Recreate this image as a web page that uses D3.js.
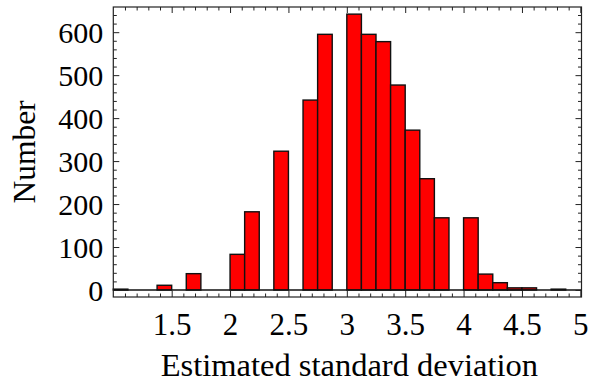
<!DOCTYPE html>
<html>
<head>
<meta charset="utf-8">
<script src="https://cdn.jsdelivr.net/npm/d3@7"></script>
<style>
  body { margin: 0; background: #fff; }
  svg text { font-family: "Liberation Serif", "Times New Roman", serif; fill: #000; }
  .frame { fill: none; stroke: #222; stroke-width: 1.2; }
  .bar { fill: #ff0000; stroke: #111; stroke-width: 1.4; }
  .axis path { display: none; }
  .axis line { stroke: #222; stroke-width: 1; }
</style>
</head>
<body>
<div id="chart"></div>
<script>
// histogram bins of width 0.125, left edges
const binStarts = [1, 1.125, 1.25, 1.375, 1.5, 1.625, 1.75, 1.875,
                   2, 2.125, 2.25, 2.375, 2.5, 2.625, 2.75, 2.875,
                   3, 3.125, 3.25, 3.375, 3.5, 3.625, 3.75, 3.875,
                   4, 4.125, 4.25, 4.375, 4.5, 4.625, 4.75, 4.875];
const counts = [2, 0, 0, 11, 0, 38, 0, 0,
                83, 182, 0, 323, 0, 442, 595, 0,
                642, 595, 578, 477, 372, 259, 168, 0,
                168, 37, 17, 5, 5, 0, 2, 0];
const binWidth = 0.125;

const xTickLabels = [1.5, 2, 2.5, 3, 3.5, 4, 4.5, 5];
const yTickLabels = [0, 100, 200, 300, 400, 500, 600];

const margin = {top: 7, right: 12.5, bottom: 91, left: 113.3},
    width = 594 - margin.left - margin.right,
    height = 388 - margin.top - margin.bottom;

const x = d3.scaleLinear()
    .domain([1, 5.01])
    .range([0, width]);

const y = d3.scaleLinear()
    .domain([-16.3, 658.6])
    .range([height, 0]);

const svg = d3.select("#chart").append("svg")
    .attr("width", 594)
    .attr("height", 388)
    .append("g")
    .attr("transform", "translate(" + margin.left + "," + margin.top + ")");

const data = binStarts.map((s, i) => ({x0: s, x1: s + binWidth, n: counts[i]}))
    .filter(d => d.n > 0);

// bars
svg.selectAll(".bar").data(data).enter()
    .append("rect")
    .attr("class", "bar")
    .attr("x", d => x(d.x0))
    .attr("width", d => x(d.x1) - x(d.x0))
    .attr("y", d => y(d.n))
    .attr("height", d => y(0) - y(d.n));

// zero line
svg.append("line")
    .attr("x1", 0).attr("x2", width)
    .attr("y1", y(0)).attr("y2", y(0))
    .style("stroke", "#111").style("stroke-width", 1.3);

// minor / major ticks, inward on all four sides
const xMinor = d3.range(11, 51).map(v => v / 10);
const yMinor = d3.range(0, 33).map(v => v * 20);

function tickLen(isMajor) { return isMajor ? 6 : 3.5; }

svg.append("g").attr("class", "axis")
    .attr("transform", "translate(0," + height + ")")
    .call(d3.axisBottom(x).tickValues(xMinor).tickFormat("").tickSizeOuter(0)
        .tickSize(-3.5))
    .selectAll(".tick line")
    .attr("y2", d => -tickLen(Math.round(d * 10) % 5 === 0));

svg.append("g").attr("class", "axis")
    .call(d3.axisTop(x).tickValues(xMinor).tickFormat("").tickSizeOuter(0)
        .tickSize(-3.5))
    .selectAll(".tick line")
    .attr("y2", d => tickLen(Math.round(d * 10) % 5 === 0));

svg.append("g").attr("class", "axis")
    .call(d3.axisLeft(y).tickValues(yMinor).tickFormat("").tickSizeOuter(0)
        .tickSize(-3.5))
    .selectAll(".tick line")
    .attr("x2", d => tickLen(d % 100 === 0));

svg.append("g").attr("class", "axis")
    .attr("transform", "translate(" + width + ",0)")
    .call(d3.axisRight(y).tickValues(yMinor).tickFormat("").tickSizeOuter(0)
        .tickSize(-3.5))
    .selectAll(".tick line")
    .attr("x2", d => -tickLen(d % 100 === 0));

// tick labels
const xLab = svg.append("g").attr("class", "axis")
    .attr("transform", "translate(0," + height + ")")
    .call(d3.axisBottom(x).tickValues(xTickLabels).tickFormat(d3.format("")).tickSize(0));
xLab.selectAll("text")
    .attr("y", 38).attr("dy", null)
    .style("font-size", "31px");
xLab.selectAll("line").remove();

const yLab = svg.append("g").attr("class", "axis")
    .call(d3.axisLeft(y).tickValues(yTickLabels).tickSize(0));
yLab.selectAll("text")
    .attr("x", -10).attr("dy", "0.34em")
    .style("font-size", "30px");
yLab.selectAll("line").remove();

// frame
svg.append("rect")
    .attr("class", "frame")
    .attr("x", 0).attr("y", 0)
    .attr("width", width).attr("height", height);

// axis titles
svg.append("text")
    .attr("x", width / 2 + 2)
    .attr("y", height + 79)
    .style("text-anchor", "middle")
    .style("font-size", "32.5px")
    .text("Estimated standard deviation");

svg.append("text")
    .attr("transform", "rotate(-90)")
    .attr("x", -height / 2)
    .attr("y", -margin.left + 35)
    .style("text-anchor", "middle")
    .style("font-size", "31.5px")
    .text("Number");
</script>
</body>
</html>
